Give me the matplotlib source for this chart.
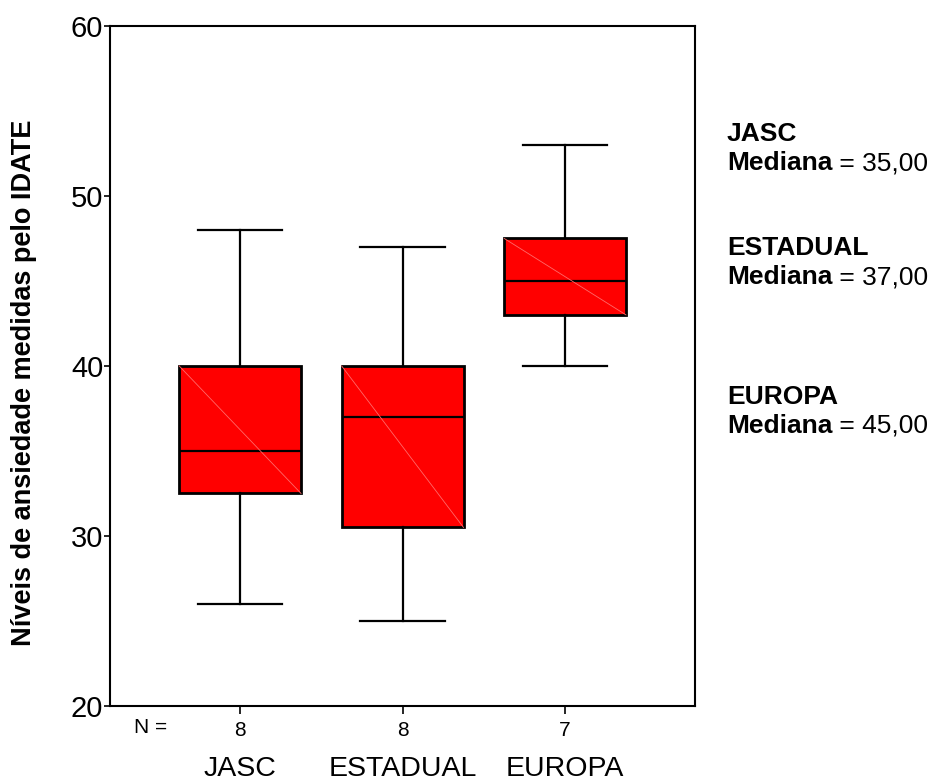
import matplotlib
matplotlib.use("Agg")
import matplotlib.pyplot as plt

# SPSS-style boxplot: IDATE anxiety levels per school
groups = ["JASC", "ESTADUAL", "EUROPA"]
n_cases = [8, 8, 7]
whisker_low = [26, 25, 40]
q1 = [32.5, 30.5, 43]
medians = [35, 37, 45]
q3 = [40, 40, 47.5]
whisker_high = [48, 47, 53]
median_labels = ["35,00", "37,00", "45,00"]
y_ticks = [20, 30, 40, 50, 60]

plt.rcParams["font.family"] = ["Liberation Sans", "DejaVu Sans"]

fig = plt.figure(figsize=(9.33, 7.84), dpi=100)
ax = fig.add_axes([0.118, 0.0995, 0.627, 0.8675])

stats = []
for i in range(len(groups)):
    stats.append({"label": str(n_cases[i]), "whislo": whisker_low[i], "q1": q1[i],
                  "med": medians[i], "q3": q3[i], "whishi": whisker_high[i], "fliers": []})

positions = list(range(1, len(groups) + 1))
box_w = 0.75
ax.bxp(stats, positions=positions, widths=box_w, capwidths=0.52, patch_artist=True,
       showfliers=False,
       boxprops=dict(facecolor="#ff0000", edgecolor="black", linewidth=2),
       medianprops=dict(color="black", linewidth=1.6),
       whiskerprops=dict(color="black", linewidth=1.6),
       capprops=dict(color="black", linewidth=1.6))

# faint diagonal inside each box (SPSS rendering artefact)
for p, lo, hi in zip(positions, q1, q3):
    ax.plot([p - box_w / 2, p + box_w / 2], [hi, lo], color="#ff6a6a", lw=0.6, zorder=3)

ax.set_xlim(0.2, 3.8)
ax.set_ylim(20, 60)
ax.set_yticks(y_ticks)
ax.tick_params(axis="y", labelsize=21, length=4, width=1.2, pad=1)
ax.tick_params(axis="x", labelsize=15, length=6, width=1.2, pad=5)
for s in ax.spines.values():
    s.set_linewidth(1.5)

ax.set_ylabel("Níveis de ansiedade medidas pelo IDATE", fontsize=19.5, fontweight="bold")
ax.yaxis.set_label_coords(-0.125, 0.475)

xt = ax.get_xaxis_transform()
ax.text(0.446, -0.032, "N =", transform=xt, fontsize=15, ha="center", va="center")
for p, g in zip(positions, groups):
    ax.text(p, -0.093, g, transform=xt, fontsize=20.5, ha="center", va="center")

# median annotations on the right
name_y = [141, 255, 404]
for g, m, yp in zip(groups, median_labels, name_y):
    fy = 1 - yp / 784
    fig.text(0.779, fy, g, fontsize=19, fontweight="bold", va="baseline")
    t = fig.text(0.779, fy - 29 / 784, "Mediana", fontsize=19, fontweight="bold", va="baseline")
    ax.annotate(" = " + m, xy=(1, 0), xycoords=t, fontsize=19, va="bottom", ha="left",
                annotation_clip=False)

fig.savefig("out.png", dpi=100)
